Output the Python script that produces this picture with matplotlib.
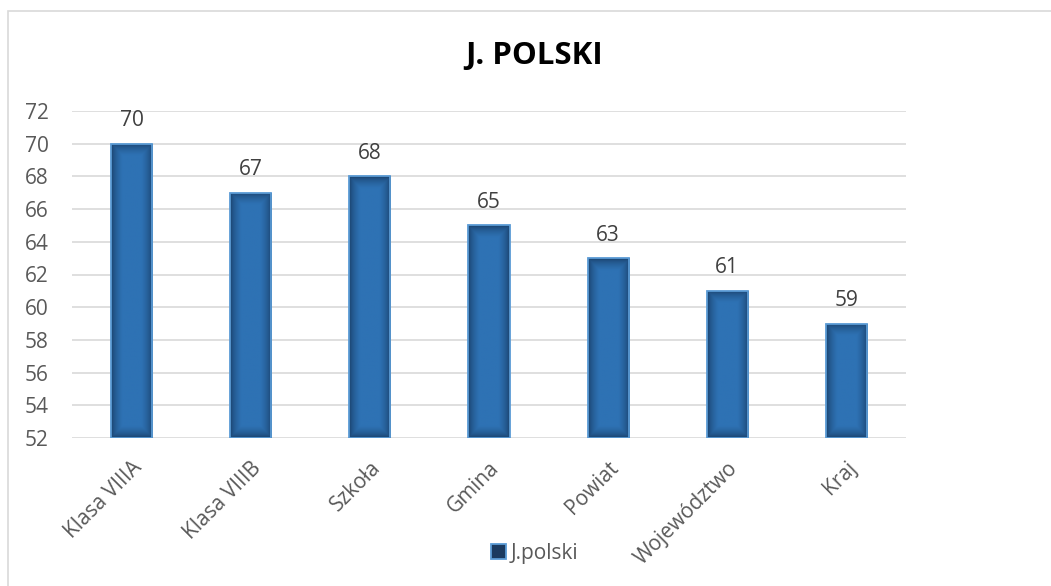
import numpy as np
import matplotlib
matplotlib.use("Agg")
import matplotlib.pyplot as plt
from matplotlib.patches import Rectangle, Patch
from matplotlib.colors import to_rgb

# data
categories = ["Klasa VIIIA", "Klasa VIIIB", "Szkoła", "Gmina", "Powiat", "Województwo", "Kraj"]
values = [70, 67, 68, 65, 63, 61, 59]
y_ticks = list(range(52, 73, 2))
series_name = "J.polski"
title = "J. POLSKI"

plt.rcParams['font.family'] = ['Open Sans', 'DejaVu Sans']
fs = 15

fig = plt.figure(figsize=(10.51, 5.86), dpi=100)
ax = fig.add_axes([72/1051, 1-438/586, (906-72)/1051, (438-111)/586])

ymin, ymax = 52, 72
bar_w = 0.345
x = np.arange(len(categories))
ax.set_xlim(-0.5, len(categories)-0.5)
ax.set_ylim(ymin, ymax)

dark = np.array(to_rgb("#15355a"))
mid = np.array(to_rgb("#2e72b4"))
px_per_unit_y = 327/20

bars = ax.bar(x, [v-ymin for v in values], bottom=ymin, width=bar_w,
              color="none", edgecolor="#5b9bd5", linewidth=1.3, zorder=3)

# gradient fill inside each bar (darker near edges)
for b, v in zip(bars, values):
    x0 = b.get_x()
    x1 = x0 + b.get_width()
    wpx = 41
    hpx = max(int((v-ymin)*px_per_unit_y), 2)
    xs = np.arange(wpx) + 0.5
    ys = np.arange(hpx) + 0.5
    XX, YY = np.meshgrid(xs, ys)
    dx = np.minimum(XX, wpx-XX)
    dy = np.minimum(YY, hpx-YY)
    t = np.minimum(np.clip(dx/11, 0, 1), np.clip(dy/12, 0, 1))
    t = np.sqrt(t)
    img = dark[None, None, :]*(1-t[..., None]) + mid[None, None, :]*t[..., None]
    im = ax.imshow(img, extent=(x0, x1, ymin, v), aspect='auto', zorder=2,
                   interpolation='bilinear')
    clip = Rectangle((x0, ymin), x1-x0, v-ymin, transform=ax.transData)
    im.set_clip_path(clip)

ax.set_xlim(-0.5, len(categories)-0.5)
ax.set_ylim(ymin, ymax)

for xi, v in zip(x, values):
    ax.annotate(str(v), (xi, v), xytext=(0, 9), textcoords="offset points",
                ha="center", va="bottom", fontsize=fs, color="#404040")

ax.set_yticks(y_ticks)
ax.set_xticks(x)
ax.set_xticklabels(categories, rotation=45, ha="right", rotation_mode="anchor")
ax.tick_params(axis="both", length=0, labelsize=fs, labelcolor="#595959")
ax.tick_params(axis="x", pad=14)
ax.tick_params(axis="y", pad=17)
ax.yaxis.grid(True, color="#d9d9d9", linewidth=1.2, zorder=0)
ax.set_axisbelow(True)
for s in ax.spines.values():
    s.set_visible(False)

fig.text(534/1051, 1-56/586, title, ha="center", va="center",
         fontsize=22.5, fontweight="bold", color="black")

handle = Patch(facecolor="#1b3a5f", edgecolor="#5b9bd5", linewidth=1.3)
fig.legend([handle], [series_name], loc="center", bbox_to_anchor=(535/1051, 1-553/586),
           frameon=False, fontsize=fs, handlelength=0.7, handleheight=0.7,
           handletextpad=0.25, labelcolor="#595959")

# chart frame
fig.patches.append(Rectangle((8/1051, -0.1), 1.2, (586-11)/586+0.1,
                             transform=fig.transFigure, fill=False,
                             edgecolor="#d9d9d9", linewidth=1.2))

fig.savefig("out.png", dpi=100)
